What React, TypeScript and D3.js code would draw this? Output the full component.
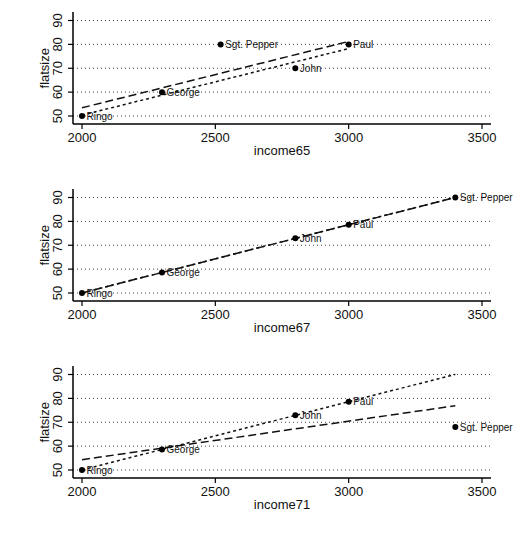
import React from "react";
import * as d3 from "d3";

// Beatles: income vs. flat size in three survey years
const names = ["John", "Paul", "George", "Ringo", "Sgt. Pepper"];
const income65 = [2800, 3000, 2300, 2000, 2520];
const flat65 = [70, 80, 60, 50, 80];
const income67 = [2800, 3000, 2300, 2000, 3400];
const flat67 = [72.9, 78.6, 58.6, 50, 90];
const income71 = [2800, 3000, 2300, 2000, 3400];
const flat71 = [72.9, 78.6, 58.6, 50, 68];

const xTicks = [2000, 2500, 3000, 3500];
const yTicks = [50, 60, 70, 80, 90];
const xTitles = ["income65", "income67", "income71"];
const yTitle = "flatsize";
const excluded = "Sgt. Pepper";

const W = 516;
const H = 533;
const FONT = "'Liberation Sans', Arial, Helvetica, sans-serif";
const panelOffsets = [0, 177, 354];
const plotLeft = 73;
const plotRight = 491;

const x = d3.scaleLinear().domain([2000, 3500]).range([82, 482]);

type Pt = { name: string; x: number; y: number };

// Least-squares line through the given points
function fit(pts: Pt[]) {
  const mx = d3.mean(pts, (p) => p.x)!;
  const my = d3.mean(pts, (p) => p.y)!;
  const sxy = d3.sum(pts, (p) => (p.x - mx) * (p.y - my));
  const sxx = d3.sum(pts, (p) => (p.x - mx) ** 2);
  const b = sxy / sxx;
  return (v: number) => my + b * (v - mx);
}

function Panel({ xs, ys, off, title }: { xs: number[]; ys: number[]; off: number; title: string }) {
  const y = d3.scaleLinear().domain([50, 90]).range([116 + off, 20.5 + off]);
  const pts: Pt[] = names.map((n, i) => ({ name: n, x: xs[i], y: ys[i] }));
  const span = d3.extent(pts, (p) => p.x) as [number, number];
  const fAll = fit(pts);
  const fSub = fit(pts.filter((p) => p.name !== excluded));
  const fitPath = (f: (v: number) => number) =>
    d3
      .line<number>()
      .x((v) => x(v))
      .y((v) => y(f(v)))(span) ?? "";
  const axisY = off + 124;
  return (
    <g>
      {yTicks.map((t) => (
        <g key={t}>
          <line x1={plotLeft} x2={plotRight} y1={y(t)} y2={y(t)} stroke="#444" strokeWidth={1} strokeDasharray="1,3" />
          <line x1={plotLeft - 5} x2={plotLeft} y1={y(t)} y2={y(t)} stroke="#000" strokeWidth={1.2} />
          <text
            transform={`translate(62,${y(t)}) rotate(-90)`}
            textAnchor="middle"
            fontSize={13}
            fontFamily={FONT}
            fill="#111"
          >
            {t}
          </text>
        </g>
      ))}
      {xTicks.map((t) => (
        <g key={t}>
          <line x1={x(t)} x2={x(t)} y1={axisY} y2={axisY + 5} stroke="#000" strokeWidth={1.2} />
          <text x={x(t)} y={axisY + 17.5} textAnchor="middle" fontSize={13} fontFamily={FONT} fill="#111">
            {t}
          </text>
        </g>
      ))}
      <line x1={plotLeft} x2={plotLeft} y1={off + 12} y2={axisY} stroke="#000" strokeWidth={1.5} />
      <line x1={plotLeft} x2={plotRight} y1={axisY} y2={axisY} stroke="#000" strokeWidth={1.6} />
      <text
        transform={`translate(48.5,${(y(50) + y(90)) / 2}) rotate(-90)`}
        textAnchor="middle"
        fontSize={13}
        fontFamily={FONT}
        fill="#111"
      >
        {yTitle}
      </text>
      <text x={(plotLeft + plotRight) / 2} y={axisY + 31} textAnchor="middle" fontSize={13} fontFamily={FONT} fill="#111">
        {title}
      </text>
      <path d={fitPath(fAll)} fill="none" stroke="#111" strokeWidth={1.5} strokeDasharray="8,4" />
      <path d={fitPath(fSub)} fill="none" stroke="#111" strokeWidth={1.5} strokeDasharray="3,3" />
      {pts.map((p) => (
        <g key={p.name}>
          <circle cx={x(p.x)} cy={y(p.y)} r={3} fill="#000" />
          <text x={x(p.x) + 4.5} y={y(p.y)} dy="0.35em" fontSize={10} fontFamily={FONT} fill="#111">
            {p.name}
          </text>
        </g>
      ))}
    </g>
  );
}

export default function App() {
  const panels = [
    { xs: income65, ys: flat65 },
    { xs: income67, ys: flat67 },
    { xs: income71, ys: flat71 },
  ];
  return (
    <svg width={W} height={H} style={{ position: "absolute", left: 0, top: 0, background: "#fff" }}>
      <rect width={W} height={H} fill="#fff" />
      {panels.map((p, i) => (
        <Panel key={i} xs={p.xs} ys={p.ys} off={panelOffsets[i]} title={xTitles[i]} />
      ))}
    </svg>
  );
}
